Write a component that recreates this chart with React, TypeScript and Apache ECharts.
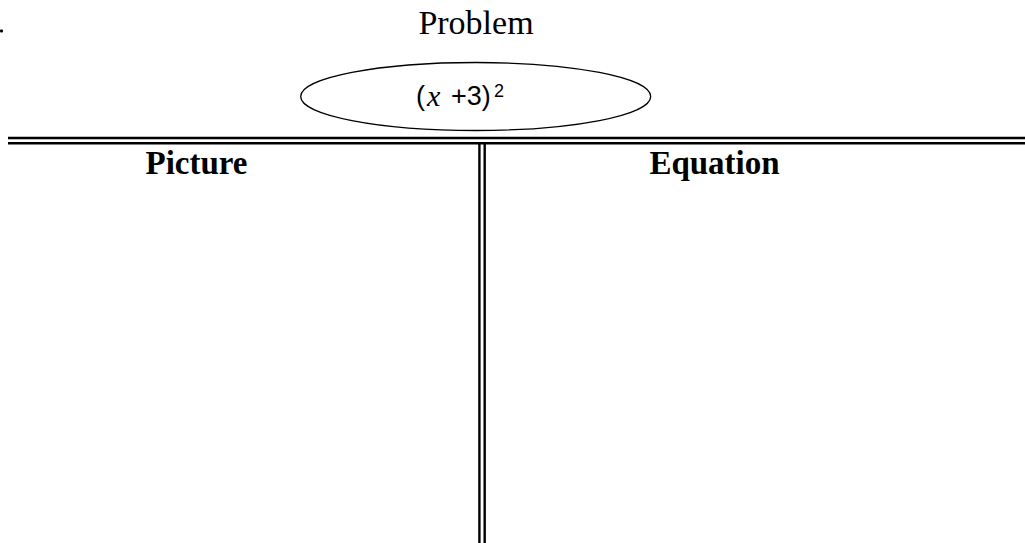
import React, { useEffect, useRef } from "react";
import * as echarts from "echarts";

const titleText = "Problem";
const expressionParts = ["(", "x", "+3)", "2"];
const columnHeaders = ["Picture", "Equation"];

export default function App() {
  const ref = useRef<HTMLDivElement>(null);
  useEffect(() => {
    if (!ref.current) return;
    const chart = echarts.init(ref.current, undefined, { renderer: "svg" });
    const serif = "'Liberation Serif', 'Times New Roman', serif";
    const sans = "'Liberation Sans', Arial, sans-serif";
    const txt = (text: string, x: number, y: number, font: string, align = "center", va = "middle") => ({
      type: "text",
      x,
      y,
      silent: true,
      style: {
        text,
        font,
        fill: "#000",
        align,
        textAlign: align,
        verticalAlign: va,
        textVerticalAlign: va,
      },
    });
    chart.setOption({
      animation: false,
      backgroundColor: "#fff",
      graphic: [
        { type: "circle", shape: { cx: 1.5, cy: 31, r: 1.6 }, style: { fill: "#000" } },
        txt(titleText, 476, 22.5, `34px ${serif}`),
        {
          type: "ellipse",
          shape: { cx: 475.7, cy: 96.5, rx: 175, ry: 34 },
          style: { fill: "#fff", stroke: "#000", lineWidth: 1.3 },
        },
        txt(expressionParts[0], 416, 96, `27px ${sans}`, "left"),
        txt(expressionParts[1], 427, 95, `italic 30px ${serif}`, "left"),
        txt(expressionParts[2], 451, 96, `27px ${sans}`, "left"),
        txt(expressionParts[3], 494, 82, `18px ${sans}`, "left", "top"),
        { type: "rect", shape: { x: 8, y: 136.8, width: 1017, height: 2.4 }, style: { fill: "#000" } },
        { type: "rect", shape: { x: 8, y: 142, width: 1017, height: 2.4 }, style: { fill: "#000" } },
        { type: "rect", shape: { x: 478.2, y: 142, width: 2.4, height: 401 }, style: { fill: "#000" } },
        { type: "rect", shape: { x: 483.5, y: 142, width: 2.4, height: 401 }, style: { fill: "#000" } },
        txt(columnHeaders[0], 196.5, 163, `bold 33px ${serif}`),
        txt(columnHeaders[1], 714.5, 163, `bold 33px ${serif}`),
      ],
    });
    return () => chart.dispose();
  }, []);
  return (
    <div
      ref={ref}
      style={{ position: "fixed", left: 0, top: 0, width: 1025, height: 543, background: "#fff" }}
    />
  );
}
